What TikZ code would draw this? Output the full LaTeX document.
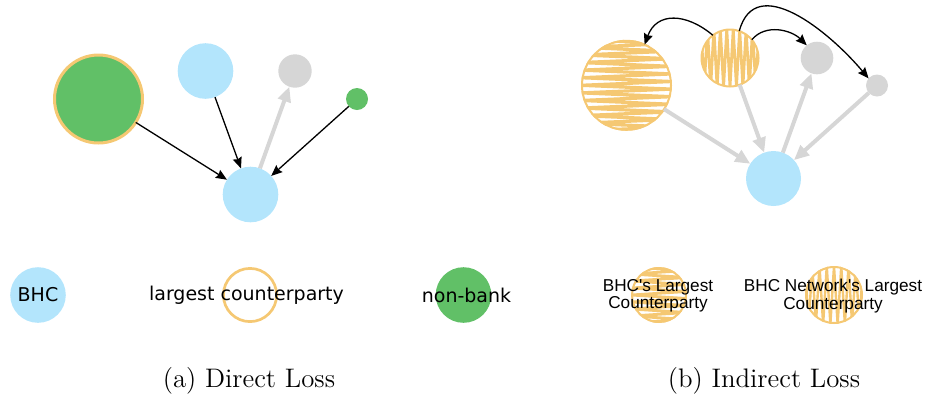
\documentclass[tikz,border=0pt]{standalone}
\usepackage{fontspec}
\newfontfamily\dvs{DejaVu Sans}
\newfontfamily\lbs{Liberation Sans}
\usetikzlibrary{arrows.meta}
\definecolor{bhcblue}{HTML}{B3E5FC}
\definecolor{nbgreen}{HTML}{61C067}
\definecolor{lcorange}{HTML}{F5C873}
\definecolor{nodegray}{HTML}{D6D6D6}
\definecolor{arrowgray}{HTML}{D6D6D6}
\newcommand\myhatchH[5]{% cx cy r N lw
  \begin{scope}
    \clip (#1,#2) circle[radius=#3*0.5pt];
    \draw[lcorange, line width=#5, line join=round] ({#1-#3},{#2-#3})
      \foreach \i in {1,...,#4}{ -- ({#1+(2*isodd(\i)-1)*#3},{#2-#3+\i*2*#3/#4}) };
  \end{scope}}
\newcommand\myhatchV[5]{% cx cy r N lw
  \begin{scope}
    \clip (#1,#2) circle[radius=#3*0.5pt];
    \draw[lcorange, line width=#5, line join=round] ({#1-#3},{#2-#3})
      \foreach \i in {1,...,#4}{ -- ({#1-#3+\i*2*#3/#4},{#2+(2*isodd(\i)-1)*#3}) };
  \end{scope}}
\begin{document}
\begin{tikzpicture}[x=0.5pt,y=-0.5pt,
  dot/.style={circle, inner sep=0pt, outer sep=0pt, minimum size=#1},
  blk/.style={black, line width=0.65pt, -{Stealth[length=5.5pt,width=4.6pt,inset=0.7pt]}},
  gry/.style={arrowgray, line width=2pt, -{Triangle[length=7.5pt,width=6.5pt]}},
  legA/.style={font=\dvs\fontsize{9.5}{11}\selectfont},
  legB/.style={font=\lbs\fontsize{8.6}{8.6}\selectfont, align=center},
  captext/.style={font=\fontsize{13.4}{16}\selectfont}]
\useasboundingbox (0,0) rectangle (925,398);

% ---------- (a) Direct Loss ----------
\node[dot=27.8pt, fill=bhcblue] (a1) at (250.5,194.5) {};
\node[dot=27.8pt, fill=bhcblue] (a2) at (205.5,71) {};
\node[dot=16.7pt, fill=nodegray] (a3) at (295,71) {};
\node[dot=11pt, fill=nbgreen] (a4) at (357,99) {};
\node[dot=44pt, fill=nbgreen, draw=lcorange, line width=1.5pt] (a0) at (98.5,99) {};
\draw[blk] (a0) -- (a1);
\draw[blk] (a2) -- (a1);
\draw[blk] (a4) -- (a1);
\draw[gry] (a1) -- (a3);

% ---------- (b) Indirect Loss ----------
\node[dot=27.5pt, fill=bhcblue] (b1) at (773.5,178.5) {};
\myhatchH{626.5}{85.3}{45.5}{24}{1.6pt}
\node[dot=44.5pt, draw=lcorange, line width=1pt] (b0) at (626.5,85.3) {};
\myhatchV{730}{58}{29}{18}{1.4pt}
\node[dot=28.5pt, draw=lcorange, line width=1pt] (bs) at (730,58) {};
\node[dot=16.3pt, fill=nodegray] (b3) at (817,58) {};
\node[dot=11pt, fill=nodegray] (b4) at (877,85.5) {};
\draw[gry] (b0) -- (b1);
\draw[gry] (bs) -- (b1);
\draw[gry] (b1) -- (b3);
\draw[gry] (b4) -- (b1);
\draw[blk] (bs.127) to[out=140,in=70,looseness=1.3] (b0.66);
\draw[blk] (bs.40) to[out=50,in=135] (b3.129);
\draw[blk] (bs.71) to[out=75,in=130,looseness=1.15] (b4.140);

% ---------- legends ----------
\node[dot=27.8pt, fill=bhcblue] (l1) at (38,295) {};
\node[legA] (t1) at (38,295) {BHC};
\node[dot=26.6pt, draw=lcorange, line width=1.35pt] (l2) at (250,295) {};
\node[legA] (t2) at (246.5,295) {largest counterparty};
\node[dot=27.8pt, fill=nbgreen] (l3) at (463.5,295) {};
\node[legA] (t3) at (466.5,295) {non-bank};

\myhatchH{659}{295}{28}{16}{1.4pt}
\node[dot=27pt, draw=lcorange, line width=1pt] (l4) at (659,295) {};
\node[legB] (t4) at (658,296) {BHC's Largest\\Counterparty};
\myhatchV{834}{295}{29}{16}{1.2pt}
\node[dot=28pt, draw=lcorange, line width=1pt] (l5) at (834,295) {};
\node[legB] (t5) at (833,296) {BHC Network's Largest\\Counterparty};

% ---------- captions ----------
\node[captext] (c1) at (249,381) {(a) Direct Loss};
\node[captext] (c2) at (764,381) {(b) Indirect Loss};
\end{tikzpicture}
\end{document}
